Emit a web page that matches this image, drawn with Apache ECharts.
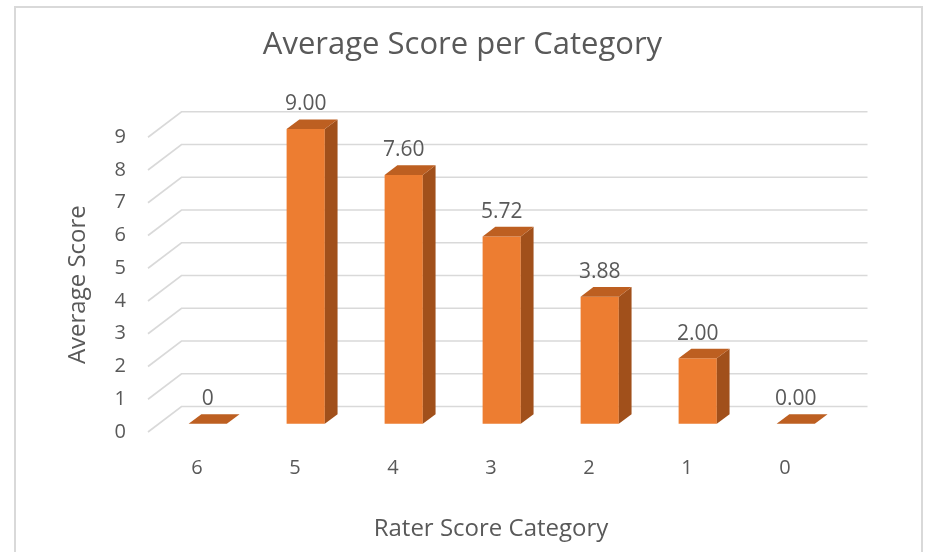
<!DOCTYPE html>
<html>
<head>
<meta charset="utf-8">
<script src="https://cdn.jsdelivr.net/npm/echarts@6/dist/echarts.min.js"></script>
<style>
  html, body { margin: 0; padding: 0; background: #fff; }
  #main { width: 925px; height: 552px; }
</style>
</head>
<body>
<div id="main"></div>
<script>
// data
var categories = ["6", "5", "4", "3", "2", "1", "0"];
var avgScores = [0, 9.0, 7.6, 5.72, 3.88, 2.0, 0.0];
var scoreLabels = ["0", "9.00", "7.60", "5.72", "3.88", "2.00", "0.00"];
var yTicks = [0, 1, 2, 3, 4, 5, 6, 7, 8, 9];

var textColor = "#595959";
var font = "Open Sans";

// fake 3d: offset from front plane to back wall, and bar depth
var wallDx = 33.5, wallDy = -25.5;
var barShift = 0.32;   // bars sit this far into the depth
var barDepth = 0.38;   // bar thickness, as share of the depth

var chart = echarts.init(document.getElementById("main"));

function renderWall(params, api) {
  var v = api.value(0);
  var band = api.size([1, 0])[0];
  var left = api.coord([0, v]);
  var right = api.coord([categories.length - 1, v]);
  var x0 = left[0] - band / 2, x1 = right[0] + band / 2, y = left[1];
  return {
    type: "polyline",
    shape: { points: [[x0, y], [x0 + wallDx, y + wallDy], [x1 + wallDx, y + wallDy]] },
    style: { stroke: "#d9d9d9", lineWidth: 1.6, fill: null },
    silent: true
  };
}

function renderBar(params, api) {
  var i = api.value(0);
  var top = api.coord([i, api.value(1)]);
  var base = api.coord([i, 0]);
  var w = api.size([1, 0])[0] * 0.39;
  var sx = wallDx * barShift, sy = wallDy * barShift;
  var dx = wallDx * barDepth, dy = wallDy * barDepth;
  var xl = top[0] - w / 2 + sx, xr = top[0] + w / 2 + sx;
  var yt = top[1] + sy, yb = base[1] + sy;
  var kids = [];
  if (yb - yt > 0.5) {
    kids.push({ type: "rect", shape: { x: xl, y: yt, width: w, height: yb - yt }, style: { fill: "#ed7d31" } });
    kids.push({ type: "polygon", shape: { points: [[xr, yt], [xr + dx, yt + dy], [xr + dx, yb + dy], [xr, yb]] }, style: { fill: "#a1501b" } });
  }
  kids.push({ type: "polygon", shape: { points: [[xl, yt], [xl + dx, yt + dy], [xr + dx, yt + dy], [xr, yt]] }, style: { fill: "#bd5f21" } });
  kids.push({
    type: "text",
    x: (xl + xr) / 2, y: yt + dy - 15,
    style: { text: scoreLabels[i], font: "21px '" + font + "'", fill: textColor, align: "center", verticalAlign: "middle" }
  });
  return { type: "group", children: kids };
}

chart.setOption({
  animation: false,
  backgroundColor: "#fff",
  title: {
    text: "Average Score per Category",
    left: "center",
    top: 25,
    textStyle: { color: textColor, fontFamily: font, fontSize: 31, fontWeight: "normal" }
  },
  graphic: [{
    type: "rect",
    shape: { x: 15, y: 7, width: 907, height: 600 },
    style: { fill: null, stroke: "#d9d9d9", lineWidth: 2 },
    silent: true
  }],
  grid: { left: 148, right: 91, top: 137.25, bottom: 120 },
  xAxis: {
    type: "category", data: categories,
    axisLine: { show: false }, axisTick: { show: false },
    axisLabel: { color: textColor, fontFamily: font, fontSize: 20, margin: 26 },
    name: "Rater Score Category", nameLocation: "middle", nameGap: 85,
    nameTextStyle: { color: textColor, fontFamily: font, fontSize: 24 }
  },
  yAxis: {
    type: "value", min: 0, max: 9, interval: 1,
    axisLine: { show: false }, axisTick: { show: false }, splitLine: { show: false },
    axisLabel: { color: textColor, fontFamily: font, fontSize: 20, margin: 22 },
    name: "Average Score", nameLocation: "middle", nameGap: 58,
    nameTextStyle: { color: textColor, fontFamily: font, fontSize: 24 }
  },
  series: [
    {
      type: "custom", name: "walls",
      data: yTicks.map(function (t) { return [t]; }),
      encode: { y: 0 },
      renderItem: renderWall, silent: true, clip: false, z: 1
    },
    {
      type: "custom", name: "Average Score",
      data: avgScores.map(function (v, i) { return [i, v]; }),
      encode: { x: 0, y: 1 },
      renderItem: renderBar, clip: false, z: 2
    }
  ]
});
</script>
</body>
</html>
